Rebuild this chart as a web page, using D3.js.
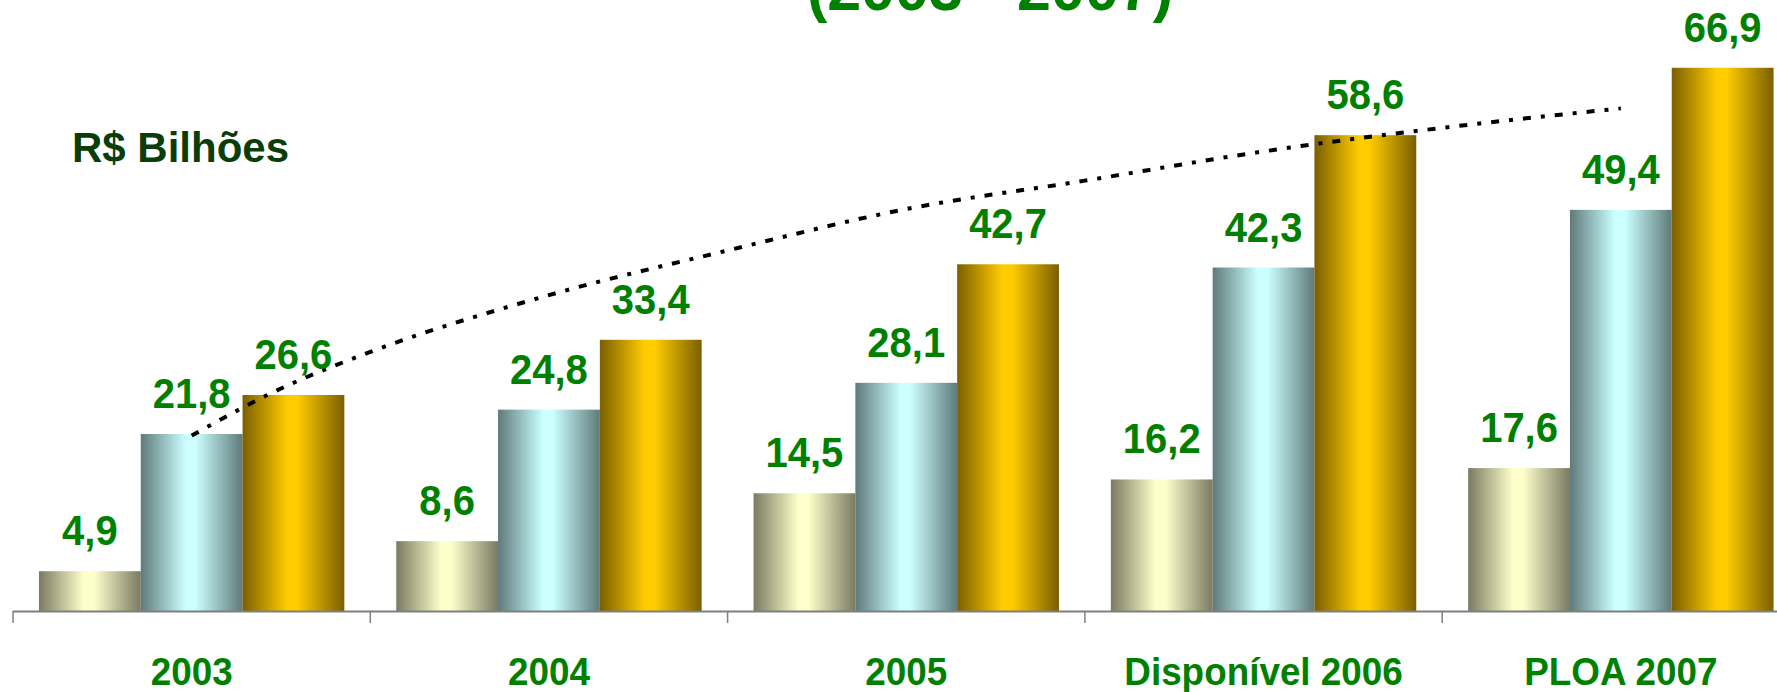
<!DOCTYPE html>
<html>
<head>
<meta charset="utf-8">
<script src="https://cdn.jsdelivr.net/npm/d3@7"></script>
<style>
  html, body { margin: 0; padding: 0; background: #ffffff; }
  svg { display: block; }
  text { font-family: "Liberation Sans", Arial, sans-serif; font-weight: bold; }
</style>
</head>
<body>
<svg id="chart" width="1777" height="692"></svg>
<script>
// ---- data ----
const categories = ["2003", "2004", "2005", "Disponível 2006", "PLOA 2007"];
const seriesNames = ["s1", "s2", "s3"];
const series1 = [4.9, 8.6, 14.5, 16.2, 17.6];
const series2 = [21.8, 24.8, 28.1, 42.3, 49.4];
const series3 = [26.6, 33.4, 42.7, 58.6, 66.9];
const valueLabels1 = ["4,9", "8,6", "14,5", "16,2", "17,6"];
const valueLabels2 = ["21,8", "24,8", "28,1", "42,3", "49,4"];
const valueLabels3 = ["26,6", "33,4", "42,7", "58,6", "66,9"];
// trend (dotted) line: position in category-index units, value in R$ bilhões
const trendPos = [0, 0.25, 0.5, 1, 1.5, 2, 2.5, 3, 3.5, 4];
const trendVal = [21.6, 27.4, 31.9, 38.9, 44.4, 49.5, 53.0, 56.6, 59.5, 61.9];
const titleText = "(2003 - 2007)";
const unitText = "R$ Bilhões";

// ---- layout ----
const W = 1777, H = 692;
const axisY = 611;
const svg = d3.select("#chart");
svg.append("rect").attr("width", W).attr("height", H).attr("fill", "#ffffff");

const x0 = d3.scaleBand().domain(categories).range([13, 13 + 5 * 357.3]).padding(0);
const x1 = d3.scaleBand().domain(seriesNames).range([0, x0.bandwidth()]).paddingInner(0).paddingOuter(0.255);
const y = d3.scaleLinear().domain([0, 70]).range([axisY, axisY - 70 * 8.12]);

// gradients
const defs = svg.append("defs");
const gradSpecs = [
  {id: "g1", dark: "#7a7a62", light: "#ffffcc"},
  {id: "g2", dark: "#5f7a7a", light: "#ccffff"},
  {id: "g3", dark: "#7a5f00", light: "#ffcc00"}
];
gradSpecs.forEach(g => {
  const lg = defs.append("linearGradient").attr("id", g.id)
    .attr("x1", "0%").attr("x2", "100%").attr("y1", "0%").attr("y2", "0%");
  lg.append("stop").attr("offset", "0%").attr("stop-color", g.dark);
  lg.append("stop").attr("offset", "44%").attr("stop-color", g.light);
  lg.append("stop").attr("offset", "54%").attr("stop-color", g.light);
  lg.append("stop").attr("offset", "100%").attr("stop-color", g.dark);
});

const allSeries = [
  {key: "s1", values: series1, labels: valueLabels1, grad: "g1"},
  {key: "s2", values: series2, labels: valueLabels2, grad: "g2"},
  {key: "s3", values: series3, labels: valueLabels3, grad: "g3"}
];

const barData = [];
allSeries.forEach(s => {
  categories.forEach((c, i) => {
    barData.push({cat: c, key: s.key, value: s.values[i], label: s.labels[i], grad: s.grad});
  });
});

// bars
svg.append("g").selectAll("rect").data(barData).join("rect")
  .attr("x", d => x0(d.cat) + x1(d.key))
  .attr("y", d => y(d.value))
  .attr("width", x1.bandwidth())
  .attr("height", d => axisY - y(d.value))
  .attr("fill", d => `url(#${d.grad})`);

// axis
const axisG = svg.append("g");
axisG.append("line")
  .attr("x1", x0.range()[0]).attr("x2", W)
  .attr("y1", axisY + 0.5).attr("y2", axisY + 0.5)
  .attr("stroke", "#7f7f7f").attr("stroke-width", 2);
axisG.selectAll("line.tick").data(categories).join("line")
  .attr("class", "tick")
  .attr("x1", d => x0(d)).attr("x2", d => x0(d))
  .attr("y1", axisY).attr("y2", axisY + 12)
  .attr("stroke", "#7f7f7f").attr("stroke-width", 1.5);

// category labels
svg.append("g").selectAll("text").data(categories).join("text")
  .attr("transform", d => `translate(${x0(d) + x0.bandwidth() / 2},685) scale(0.97,1)`)
  .attr("text-anchor", "middle")
  .attr("font-size", 38)
  .attr("fill", "#008000")
  .text(d => d);

// trend line
const xt = d3.scaleLinear().domain([0, categories.length - 1])
  .range([x0(categories[0]) + x0.bandwidth() / 2, x0(categories[categories.length - 1]) + x0.bandwidth() / 2]);
const trendPts = trendPos.map((p, i) => [p, trendVal[i]]);
svg.append("path")
  .datum(trendPts)
  .attr("d", d3.line().x(d => xt(d[0])).y(d => y(d[1])).curve(d3.curveMonotoneX))
  .attr("fill", "none")
  .attr("stroke", "#000000")
  .attr("stroke-width", 4)
  .attr("stroke-dasharray", "8,10,4,10");

// value labels
svg.append("g").selectAll("text").data(barData).join("text")
  .attr("transform", d => `translate(${x0(d.cat) + x1(d.key) + x1.bandwidth() / 2},${y(d.value) - 26}) scale(0.93,1)`)
  .attr("text-anchor", "middle")
  .attr("font-size", 43)
  .attr("fill", "#008000")
  .text(d => d.label);

// unit label
svg.append("text")
  .attr("x", 72).attr("y", 162)
  .attr("font-size", 42)
  .attr("fill", "#0b3d0b")
  .text(unitText);

// title (partly cut at top)
svg.append("text")
  .attr("x", 990).attr("y", 10)
  .attr("text-anchor", "middle")
  .attr("font-size", 61)
  .attr("fill", "#008000")
  .text(titleText);
</script>
</body>
</html>
